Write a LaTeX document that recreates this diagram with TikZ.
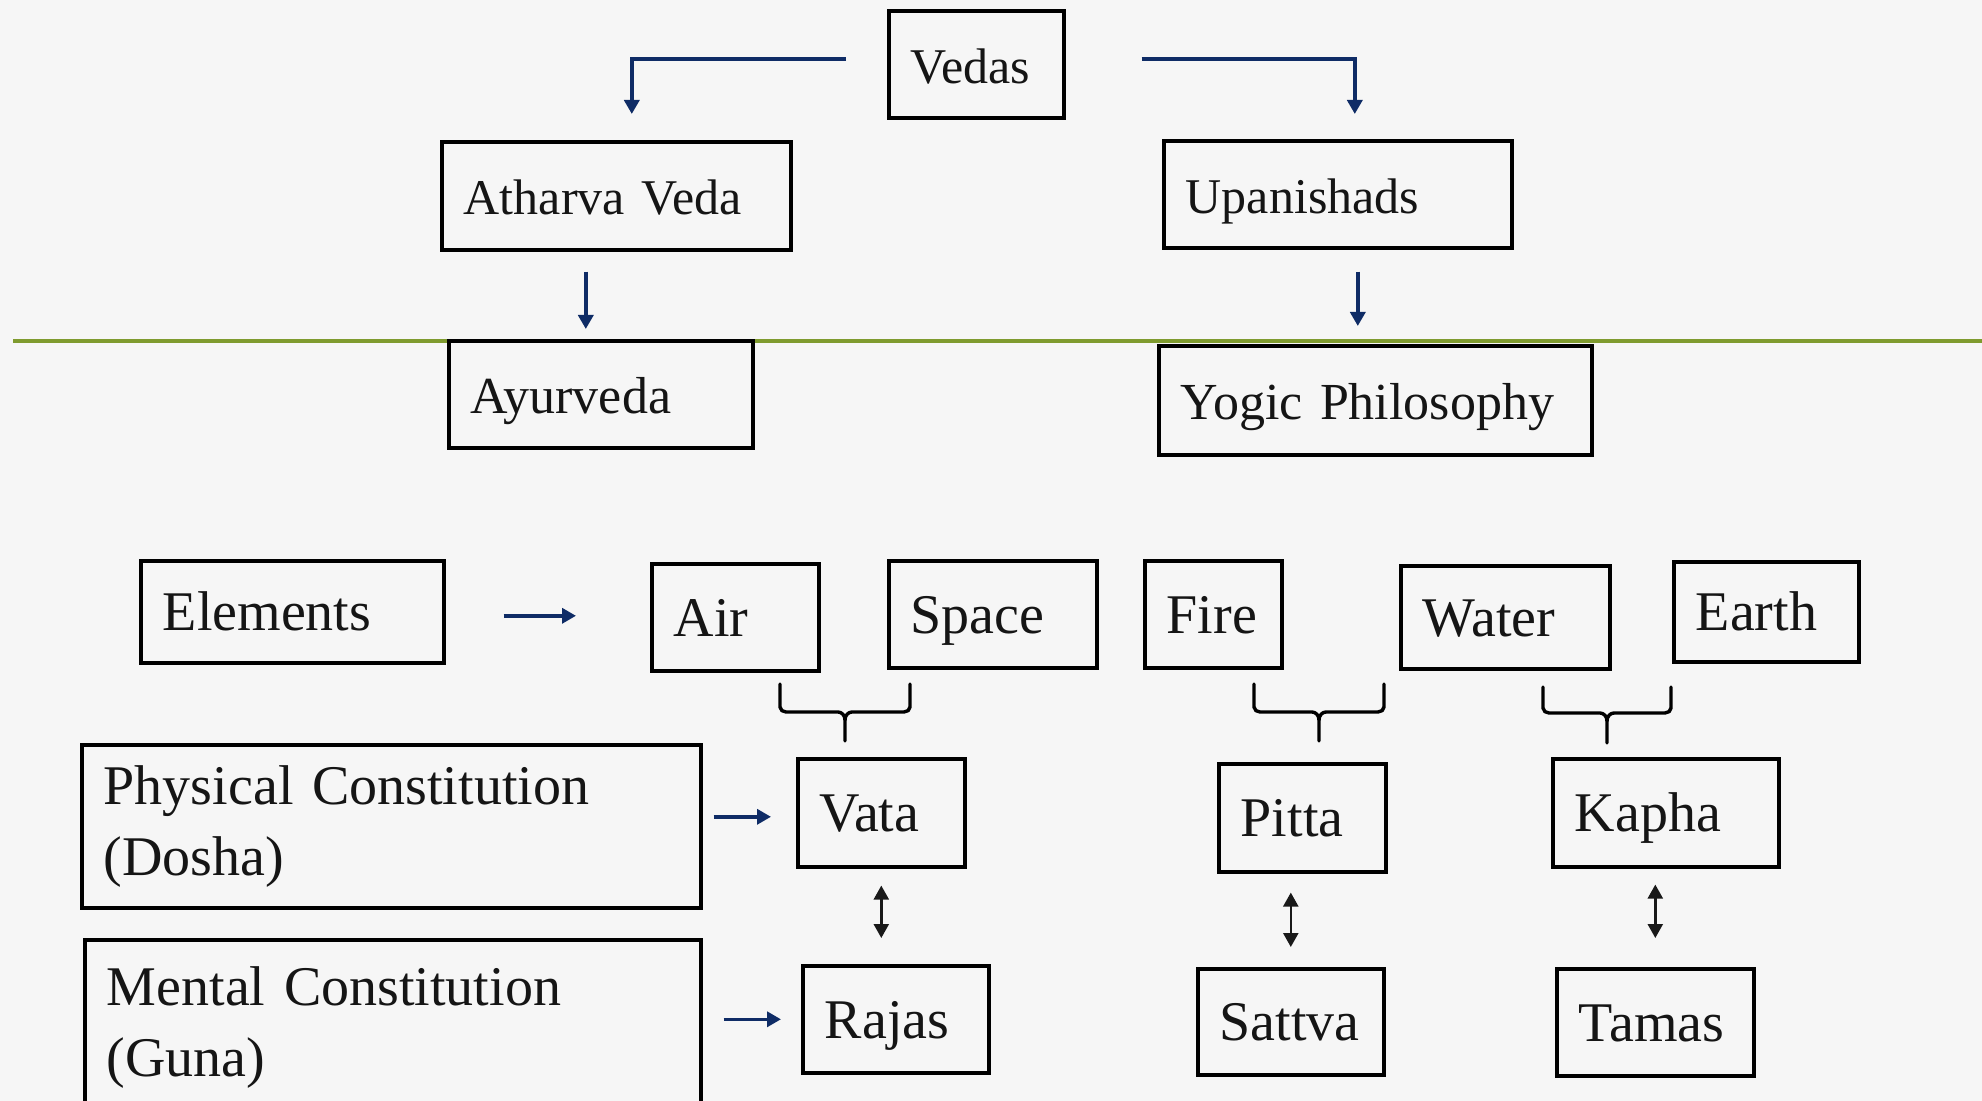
\documentclass[tikz,border=0pt]{standalone}
\usepackage{fontspec}
\setmainfont{Liberation Serif}
\usetikzlibrary{arrows.meta}

\definecolor{paper}{HTML}{F6F6F6}
\definecolor{navyline}{HTML}{0F2C66}
\definecolor{olive}{HTML}{7F9B2F}
\definecolor{ink}{HTML}{151515}

% curly joiner: two uprights merged into one downward stem
\newcommand{\groupbrace}[5]{%
  \pgfmathsetmacro\bcx{(#1+#2)/2}%
  \draw[bracestyle] (#1,#3) -- (#1,#4-5) to[out=-90,in=180] (#1+6,#4)
    -- (\bcx-7,#4) to[out=0,in=90] (\bcx,#4+8) -- (\bcx,#5);
  \draw[bracestyle] (#2,#3) -- (#2,#4-5) to[out=-90,in=0] (#2-6,#4)
    -- (\bcx+7,#4) to[out=180,in=90] (\bcx,#4+8);}

\begin{document}
\begin{tikzpicture}[x=0.5pt,y=-0.5pt,
  box/.style={draw=black, line width=1.8pt, anchor=north west, inner xsep=11pt,
    inner ysep=0pt, align=left, text=ink},
  one/.style={text height=20pt, text depth=1pt},
  top/.style={one, font=\fontsize{25}{30}\selectfont},
  mid/.style={one, font=\fontsize{26}{31}\selectfont},
  low/.style={one, font=\fontsize{28}{35.5}\selectfont},
  two/.style={font=\fontsize{28}{35.5}\selectfont},
  arr/.style={draw=navyline, line width=1.8pt, -{Triangle[width=7.5pt,length=7pt]}},
  dbl/.style={draw=black!90, line width=1.2pt,
    {Triangle[width=7.5pt,length=7pt]}-{Triangle[width=7.5pt,length=7pt]}},
  bracestyle/.style={draw=black, line width=1.7pt, line join=round, line cap=round},
  greenline/.style={draw=olive, line width=1.6pt}]

\useasboundingbox[fill=paper] (0,0) rectangle (1982,1101);

% divider
\draw[greenline] (13,341) -- (1982,341);

% upper tier
\node[box,top,text width=65.5pt,minimum height=53.5pt] (Vedas) at (887,9) {Vedas};
\node[box,top,text width=152.5pt,minimum height=54pt] (Atharva) at (440,140) {Atharva Veda};
\node[box,top,text width=152pt,minimum height=53.5pt] (Upanishads) at (1162,139) {Upanishads};
\node[box,mid,text width=130pt,minimum height=53.5pt] (Ayurveda) at (447,339) {Ayurveda};
\node[box,mid,text width=194.5pt,minimum height=54.5pt] (Yogic) at (1157,344) {Yogic Philosophy};

% elements row
\node[box,low,text width=129.5pt,minimum height=51pt] (Elements) at (139,559) {Elements};
\node[box,low,text width=61.5pt,minimum height=53.5pt] (Air) at (650,562) {Air};
\node[box,low,text width=82pt,minimum height=53.5pt] (Space) at (887,559) {Space};
\node[box,low,text width=46.5pt,minimum height=53.5pt] (Fire) at (1143,559) {Fire};
\node[box,low,text width=82.5pt,minimum height=51.5pt] (Water) at (1399,564) {Water};
\node[box,low,text width=70.5pt,minimum height=50pt] (Earth) at (1672,560) {Earth};

% dosha row
\node[box,two,text width=287.5pt,minimum height=81.5pt] (Physical) at (80,743) {Physical Constitution\\(Dosha)};
\node[box,low,text width=61.5pt,minimum height=54pt] (Vata) at (796,757) {Vata};
\node[box,low,text width=61.5pt,minimum height=54pt] (Pitta) at (1217,762) {Pitta};
\node[box,low,text width=91pt,minimum height=54pt] (Kapha) at (1551,757) {Kapha};

% guna row
\node[box,two,text width=286pt,minimum height=87.5pt] (Mental) at (83,938) {Mental Constitution\\(Guna)};
\node[box,low,text width=71pt,minimum height=53.5pt] (Rajas) at (801,964) {Rajas};
\node[box,low,text width=71pt,minimum height=53pt] (Sattva) at (1196,967) {Sattva};
\node[box,low,text width=76.5pt,minimum height=53.5pt] (Tamas) at (1555,967) {Tamas};

% lineage arrows
\draw[arr, shorten <=20.5pt, shorten >=13pt] ([yshift=2.75pt]Vedas.west) -| ([xshift=7.75pt]Atharva.north);
\draw[arr, shorten <=38pt, shorten >=12.5pt] ([yshift=2.75pt]Vedas.east) -| ([xshift=8.5pt]Upanishads.north);
\draw[arr, shorten <=10pt, shorten >=5pt] ([xshift=-15.25pt]Atharva.south) -- ([xshift=-15.25pt]Atharva.south |- Ayurveda.north);
\draw[arr, shorten <=11pt, shorten >=9pt] ([xshift=10pt]Upanishads.south) -- ([xshift=10pt]Upanishads.south |- Yogic.north);

% row labels to rows
\draw[arr, shorten <=29pt, shorten >=37pt] ([yshift=-2pt]Elements.east) -- ([yshift=-2pt]Elements.east -| Air.west);
\draw[arr, shorten <=5.5pt, shorten >=12.5pt] ([yshift=-2pt]Vata.west -| Physical.east) -- ([yshift=-2pt]Vata.west);
\draw[arr, shorten <=10.5pt, shorten >=10pt] (Rajas.west -| Mental.east) -- (Rajas.west);

% element pairs joined into doshas
\groupbrace{780}{910}{684}{712}{741}
\groupbrace{1254}{1384}{684}{712}{741}
\groupbrace{1543}{1671}{687}{713}{743}

% dosha <-> guna
\draw[dbl, shorten <=8.5pt, shorten >=13pt] (Vata.south) -- (Vata.south |- Rajas.north);
\draw[dbl, shorten <=9.5pt, shorten >=10pt] (Sattva.north |- Pitta.south) -- (Sattva.north);
\draw[dbl, shorten <=8pt, shorten >=14.5pt] (Tamas.north |- Kapha.south) -- (Tamas.north);

\end{tikzpicture}
\end{document}
